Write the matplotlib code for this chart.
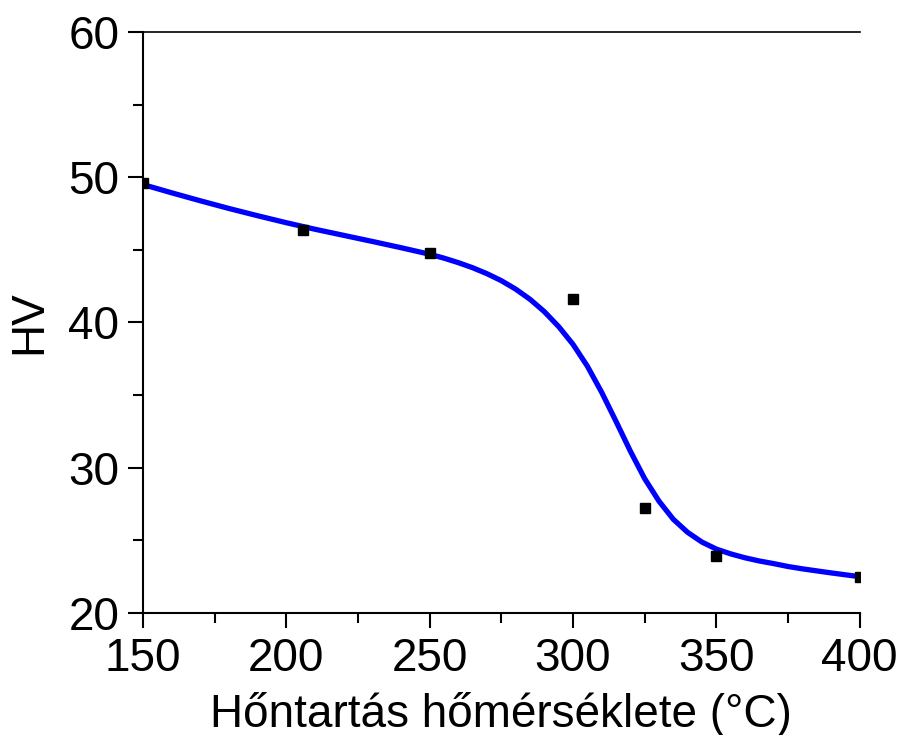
import matplotlib
matplotlib.use("Agg")
import matplotlib.pyplot as plt
from matplotlib.ticker import MultipleLocator

plt.rcParams["font.family"] = ["Liberation Sans", "DejaVu Sans"]

# measured hardness
temps = [150, 206, 250, 300, 325, 350, 400]
hv = [49.6, 46.4, 44.8, 41.6, 27.2, 23.9, 22.5]

fit_t = [150, 160, 170, 180, 190, 200, 210, 220, 230, 240, 250, 255, 260,
         265, 270, 275, 280, 285, 290, 295, 300, 305, 310, 315, 320, 325,
         330, 335, 340, 345, 350, 355, 360, 365, 370, 375, 380, 385, 390,
         395, 400]
fit_hv = [49.5, 48.93, 48.38, 47.85, 47.35, 46.87, 46.42, 46.0, 45.58, 45.15,
          44.7, 44.43, 44.12, 43.77, 43.36, 42.88, 42.3, 41.6, 40.75, 39.72,
          38.5, 37.0, 35.2, 33.2, 31.15, 29.25, 27.7, 26.45, 25.55, 24.88,
          24.4, 24.07, 23.8, 23.58, 23.4, 23.2, 23.04, 22.9, 22.76, 22.63,
          22.5]

fig = plt.figure(figsize=(9.04, 7.35), dpi=100)
ax = fig.add_axes([0.158, 0.166, 0.793, 0.7905])

ax.plot(fit_t, fit_hv, color="#0000ff", lw=3.8, zorder=2,
        solid_joinstyle="round")
ax.plot(temps, hv, ls="none", marker="s", ms=7, color="black", zorder=3)

ax.set_xlim(150, 400)
ax.set_ylim(20, 60)
ax.xaxis.set_major_locator(MultipleLocator(50))
ax.xaxis.set_minor_locator(MultipleLocator(25))
ax.yaxis.set_major_locator(MultipleLocator(10))
ax.yaxis.set_minor_locator(MultipleLocator(5))

ax.spines["right"].set_visible(False)
for s in ("left", "bottom"):
    ax.spines[s].set_linewidth(1.5)
ax.spines["top"].set_linewidth(1.2)

ax.tick_params(which="major", direction="out", length=11, width=1.5,
               labelsize=33, top=False, right=False)
ax.tick_params(which="minor", direction="out", length=7, width=1.5,
               top=False, right=False)
ax.tick_params(axis="x", which="major", pad=6)
ax.tick_params(axis="y", which="major", pad=6)

ax.set_xlabel("Hőntartás hőmérséklete (°C)", fontsize=33, labelpad=8)
ax.set_ylabel("HV", fontsize=33, labelpad=12)

fig.savefig("out.png", dpi=100)
